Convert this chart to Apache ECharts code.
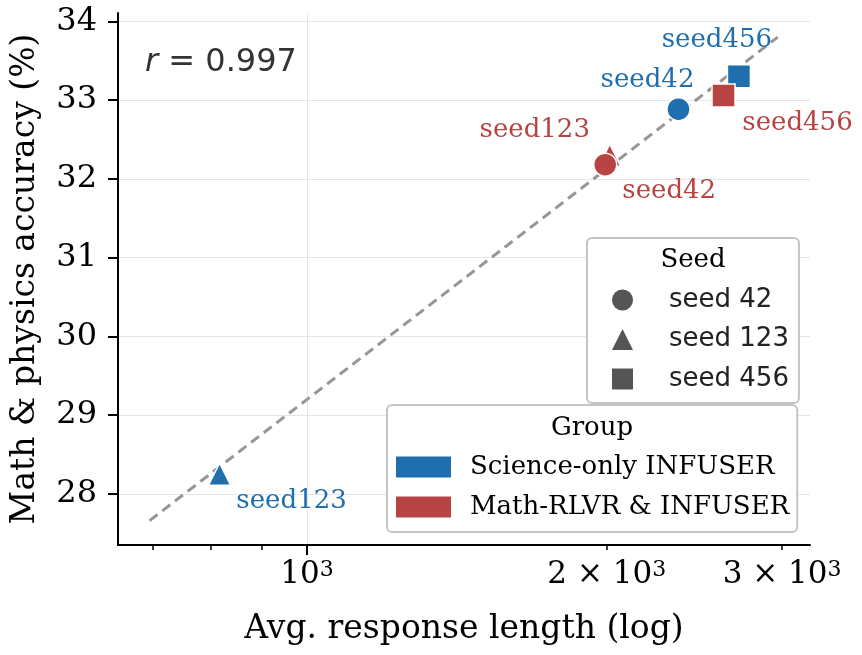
<!DOCTYPE html>
<html><head><meta charset="utf-8">
<script src="https://cdn.jsdelivr.net/npm/echarts@6/dist/echarts.min.js"></script>
<style>html,body{margin:0;padding:0;background:#fff}#c{width:862px;height:655px}</style>
</head><body><div id="c"></div>
<script>
// ---- data ----
const groups = ['Science-only INFUSER', 'Math-RLVR & INFUSER'];
const seeds = ['seed 42', 'seed 123', 'seed 456'];
const pointLabels = ['seed42', 'seed123', 'seed456'];
const scienceLength = [2361, 817, 2715];
const scienceAcc = [32.885, 28.25, 33.305];
const mathLength = [1993, 2014, 2620];
const mathAcc = [32.18, 32.30, 33.06];
const fitLength = [695, 2970];
const fitAcc = [27.66, 33.80];
const xMajorTicks = [1000];
const xLabelTicks = [1000, 2000, 3000];
const xMinorTicks = [700, 800, 900, 2000, 3000];
const yTicks = [28, 29, 30, 31, 32, 33, 34];
const rText = '0.997';

// ---- styles ----
const groupColors = ['#1f6eae', '#b84343'];
const seedSymbols = ['circle', 'triangle', 'rect'];
const seedSizes = [23, 22, 23];
const drawOrder = [[0, 1, 2], [1, 0, 2]];
const labelOffsets = [
  [[-31, -29], [72, 27], [-22, -36]],
  [[64, 27], [-75, -25], [74, 28]]
];
const SERIF = 'DejaVu Serif';
const SANS = 'DejaVu Sans';
const lx = v => Math.log10(v);
const lengths = [scienceLength, mathLength];
const accs = [scienceAcc, mathAcc];

function fmtX(v) {
  const n = Math.round(Math.pow(10, v) / 1000);
  return n === 1 ? '{b|10}{s|3}' : '{b|' + n + ' \u00d7 10}{s|3}';
}

const series = [];
series.push({
  type: 'line', name: 'fit', xAxisIndex: 0, yAxisIndex: 0,
  data: fitLength.map((v, i) => [lx(v), fitAcc[i]]),
  symbol: 'none', silent: true, z: 1,
  lineStyle: { color: '#969696', width: 3, type: [10, 6] }
});
groups.forEach((g, gi) => {
  series.push({
    type: 'scatter', name: g, xAxisIndex: 0, yAxisIndex: 0, z: 3,
    itemStyle: { color: groupColors[gi], borderColor: '#fff', borderWidth: 1.5, opacity: 1 },
    data: drawOrder[gi].map(si => ({
      value: [lx(lengths[gi][si]), accs[gi][si]],
      symbol: seedSymbols[si],
      symbolSize: seedSizes[si],
      label: {
        show: true, formatter: pointLabels[si], position: 'inside',
        offset: labelOffsets[gi][si], align: 'center', verticalAlign: 'middle',
        color: groupColors[gi], fontFamily: SERIF, fontSize: 26,
        textBorderWidth: 0, opacity: 1
      }
    })),
    emphasis: { disabled: true }
  });
});
seeds.forEach((s, si) => {
  series.push({
    type: 'scatter', name: s, data: [], symbol: seedSymbols[si],
    itemStyle: { color: '#555555', opacity: 1 }
  });
});

const axisLineStyle = { color: '#000', width: 2 };
const option = {
  animation: false,
  grid: { left: 118, top: 13, right: 52, bottom: 110, outerBoundsMode: 'none' },
  xAxis: [
    {
      type: 'value', min: lx(646), max: lx(3200),
      axisLine: { show: true, lineStyle: axisLineStyle },
      axisTick: { show: true, length: 10, lineStyle: { color: '#000', width: 2 }, customValues: xMajorTicks.map(lx) },
      axisLabel: { customValues: xLabelTicks.map(lx), formatter: fmtX, margin: 14,
        fontFamily: SERIF, fontSize: 31, color: '#000',
        rich: {
          b: { fontFamily: SERIF, fontSize: 31, color: '#000' },
          s: { fontFamily: SERIF, fontSize: 22, color: '#000', verticalAlign: 'top', lineHeight: 16 }
        } },
      splitLine: { show: true, lineStyle: { color: '#e6e6e6', width: 1 } },
      name: 'Avg. response length (log)', nameLocation: 'middle', nameGap: 68,
      nameTextStyle: { fontFamily: SERIF, fontSize: 33, color: '#000' }
    },
    {
      type: 'value', min: lx(646), max: lx(3200), position: 'bottom',
      axisLine: { show: false },
      axisTick: { show: true, length: 5, lineStyle: { color: '#000', width: 1.5 }, customValues: xMinorTicks.map(lx) },
      axisLabel: { show: false }, splitLine: { show: false }
    }
  ],
  yAxis: {
    type: 'value', min: 27.35, max: 34.107,
    axisLine: { show: true, lineStyle: axisLineStyle },
    axisTick: { show: true, length: 10, lineStyle: { color: '#000', width: 2 }, customValues: yTicks },
    axisLabel: { customValues: yTicks, margin: 21, fontFamily: SERIF, fontSize: 32, color: '#000' },
    splitLine: { show: true, lineStyle: { color: '#e6e6e6', width: 1 } },
    name: 'Math & physics accuracy (%)', nameLocation: 'middle', nameGap: 76,
    nameTextStyle: { fontFamily: SERIF, fontSize: 33, color: '#000' }
  },
  legend: [
    {
      orient: 'vertical', left: 587, top: 238, selectedMode: false,
      data: seeds.map((s, si) => ({ name: s, icon: seedSymbols[si] })),
      itemWidth: 21, itemHeight: 21, itemGap: 13.5,
      padding: [49, 10, 11, 25],
      backgroundColor: 'rgba(255,255,255,0.85)', borderColor: '#c4c4c4', borderWidth: 2, borderRadius: 5,
      formatter: n => '{t|' + n + '}',
      textStyle: { color: '#222', rich: { t: { fontFamily: SANS, fontSize: 26, padding: [0, 0, 0, 31], color: '#222' } } }
    },
    {
      orient: 'vertical', left: 387, top: 405, selectedMode: false,
      data: groups.map(g => ({ name: g, icon: 'rect', itemStyle: { borderWidth: 0 } })),
      itemWidth: 55, itemHeight: 21, itemGap: 14,
      padding: [49, 8, 12, 9],
      backgroundColor: 'rgba(255,255,255,0.85)', borderColor: '#c4c4c4', borderWidth: 2, borderRadius: 5,
      formatter: n => '{t|' + n + '}',
      textStyle: { color: '#000', rich: { t: { fontFamily: SERIF, fontSize: 26, padding: [0, 0, 0, 14], color: '#000' } } }
    }
  ],
  graphic: [
    { type: 'text', x: 145, y: 63, z: 100,
      style: { text: '{i|r} = ' + rText, verticalAlign: 'middle', fill: '#333',
        font: '32px "DejaVu Sans"',
        rich: { i: { fontStyle: 'italic', fontFamily: SANS, fontSize: 32, fill: '#333' } } } },
    { type: 'text', x: 693, y: 260, z: 100,
      style: { text: 'Seed', align: 'center', verticalAlign: 'middle', fill: '#000', font: '26px "DejaVu Serif"' } },
    { type: 'text', x: 592, y: 428, z: 100,
      style: { text: 'Group', align: 'center', verticalAlign: 'middle', fill: '#000', font: '26px "DejaVu Serif"' } }
  ],
  series: series
};
const chart = echarts.init(document.getElementById('c'), null, { renderer: 'canvas' });
chart.setOption(option);
</script>
</body></html>
